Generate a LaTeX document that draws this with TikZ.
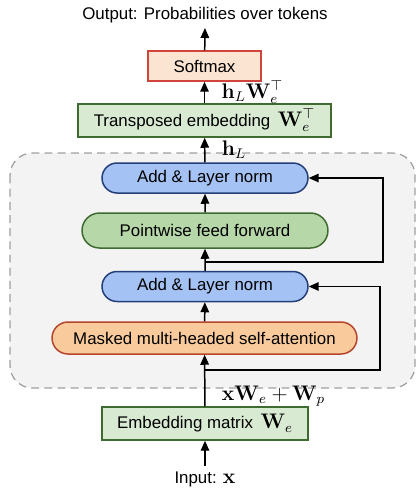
\documentclass[tikz,border=0pt]{standalone}
\usepackage[no-math]{fontspec}
\setmainfont{Liberation Sans}
\usepackage{amsmath}
\usetikzlibrary{arrows.meta,shapes.misc}

\definecolor{peach}{HTML}{FCE4D2}
\definecolor{redline}{HTML}{D0453A}
\definecolor{lgreen}{HTML}{D9EAD3}
\definecolor{mgreen}{HTML}{B6D7A8}
\definecolor{dgreen}{HTML}{3F6B30}
\definecolor{lblue}{HTML}{A4C2F4}
\definecolor{dblue}{HTML}{243F78}
\definecolor{lorange}{HTML}{F9CB9C}
\definecolor{dorange}{HTML}{B5452B}
\definecolor{boxgray}{HTML}{F3F3F3}

\newcommand{\bigmath}[1]{{\fontsize{12}{12}\selectfont$#1$}}

\begin{document}
\begin{tikzpicture}[x=0.02cm, y=-0.02cm,
  every node/.style={font=\fontsize{9.6}{11}\selectfont},
  block/.style={draw, line width=0.85pt, minimum height=0.62cm, inner sep=0pt},
  pill/.style={block, rounded rectangle},
  arr/.style={line width=0.85pt, -{Triangle[length=2mm,width=1.7mm]}}]
  \useasboundingbox (0,0) rectangle (416,488);

  % decoder block
  \draw[dashed, dash pattern=on 4.5pt off 3pt, gray!75, line width=0.7pt,
    fill=boxgray, rounded corners=0.45cm] (10,153) rectangle (415,388);

  \node (out) at (205,15) {Output: Probabilities over tokens};
  \node[block, fill=peach, draw=redline, minimum width=2.26cm, minimum height=0.6cm] (soft) at (204.5,66) {Softmax};
  \node[block, fill=lgreen, draw=dgreen, minimum width=5.06cm, minimum height=0.66cm] (trans) at (204.5,120.5)
    {Transposed embedding \,\bigmath{\mathbf{W}_e^\top}};
  \node[pill, fill=lblue, draw=dblue, minimum width=4.12cm, minimum height=0.6cm] (addhi) at (205,178) {Add \& Layer norm};
  \node[pill, fill=mgreen, draw=dgreen, minimum width=4.92cm, minimum height=0.7cm] (ffn) at (205,230.5) {Pointwise feed forward};
  \node[pill, fill=lblue, draw=dblue, minimum width=4.12cm, minimum height=0.6cm] (addlo) at (205,286.5) {Add \& Layer norm};
  \node[pill, fill=lorange, draw=dorange, minimum width=6.1cm, minimum height=0.64cm] (attn) at (204.5,338)
    {Masked multi-headed self-attention};
  \node[block, fill=lgreen, draw=dgreen, minimum width=4.12cm, minimum height=0.66cm] (emb) at (205,423.5)
    {Embedding matrix \,\bigmath{\mathbf{W}_e}};
  \node (in) at (205,479) {Input: \bigmath{\mathbf{x}}};

  \coordinate (inend) at (205,466);
  \coordinate (outend) at (205,28);
  \coordinate (jlo) at (205,370);
  \coordinate (jhi) at (205,262);
  \coordinate (rlo) at (380,370);
  \coordinate (rhi) at (383,262);

  \draw[arr] (inend) -- (emb);
  \draw[arr] (emb) -- (attn) node[pos=0.2, right=6pt] {\bigmath{\mathbf{x}\mathbf{W}_e+\mathbf{W}_p}};
  \draw[arr] (attn) -- (addlo);
  \draw[arr] (addlo) -- (ffn);
  \draw[arr] (ffn) -- (addhi);
  \draw[arr] (addhi) -- (trans) node[midway, right=6pt] {\bigmath{\mathbf{h}_L}};
  \draw[arr] (trans) -- (soft) node[midway, right=6pt] {\bigmath{\mathbf{h}_L\mathbf{W}_e^\top}};
  \draw[arr] (soft) -- (outend);

  % residual connections
  \draw[arr] (jlo) -- (rlo) |- (addlo.east);
  \draw[arr] (jhi) -- (rhi) |- (addhi.east);
\end{tikzpicture}
\end{document}
